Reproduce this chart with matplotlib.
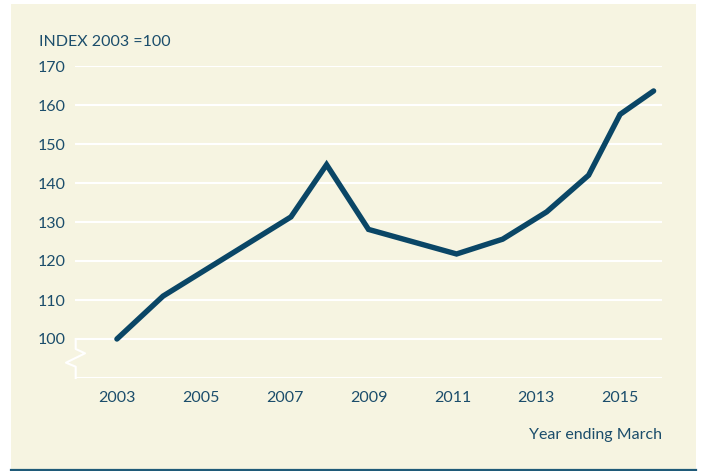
import matplotlib.pyplot as plt
from matplotlib.patches import Rectangle
from matplotlib.lines import Line2D

# index values (year ending March, 2003 = 100)
years = [2003, 2004.1, 2007.15, 2008.0, 2009.0, 2011.1, 2012.2, 2013.25, 2014.25, 2015.0, 2015.8]
index_values = [100, 111, 131.3, 144.7, 128.1, 121.8, 125.6, 132.6, 142.0, 157.6, 163.6]

x_ticks = [2003, 2005, 2007, 2009, 2011, 2013, 2015]
y_ticks = [100, 110, 120, 130, 140, 150, 160, 170]

CREAM = '#f6f4e1'
NAVY = '#0a4666'
TEXT = '#1b4d6b'

plt.rcParams['font.family'] = ['Lato', 'DejaVu Sans']

fig = plt.figure(figsize=(7.03, 4.71), dpi=100)
fig.patch.set_facecolor('white')

# cream panel behind the chart and the rule under it
W, H = 703, 471
fig.patches.append(Rectangle((11 / W, 1 - 469 / H), 685 / W, 465 / H,
                             transform=fig.transFigure, facecolor=CREAM,
                             edgecolor='none', zorder=-5))
fig.add_artist(Line2D([11 / W, 696 / W], [1 - 470 / H, 1 - 470 / H],
                      transform=fig.transFigure, color='#1f5a78', lw=1.6))

ax = fig.add_axes([75 / W, 1 - 378 / H, 587 / W, 312 / H])
ax.set_zorder(2)
ax.set_facecolor('none')

for y in y_ticks + [90]:
    ax.axhline(y, color='white', lw=1.5, zorder=1)

ax.plot(years, index_values, color=NAVY, lw=3.9, solid_capstyle='round',
        solid_joinstyle='miter', zorder=3, clip_on=False)

ax.set_xlim(2002, 2016)
ax.set_ylim(90, 170)
ax.set_xticks(x_ticks)
ax.set_xticklabels([str(x) for x in x_ticks])
ax.set_yticks(y_ticks)
ax.set_yticklabels([str(y) for y in y_ticks])
ax.tick_params(length=0, labelsize=11.5, colors=TEXT)
ax.tick_params(axis='y', pad=7)
ax.tick_params(axis='x', pad=9)
for s in ax.spines.values():
    s.set_visible(False)

# axis break mark on the left edge
px = [75.7, 75.7, 85, 66, 75.7, 75.7]
py = [339, 349, 353.3, 362.7, 366.7, 378]
ax.plot([(p - 75) / 587 for p in px], [(378 - p) / 312 for p in py],
        transform=ax.transAxes, color='white', lw=1.5, clip_on=False, zorder=2)

fig.text(39 / W, 1 - 42 / H, 'INDEX 2003 =100', ha='left', va='center',
         fontsize=11.5, color=TEXT)
fig.text(662 / W, 1 - 435 / H, 'Year ending March', ha='right', va='center',
         fontsize=11.5, color=TEXT)

fig.savefig('out.png', dpi=100)
